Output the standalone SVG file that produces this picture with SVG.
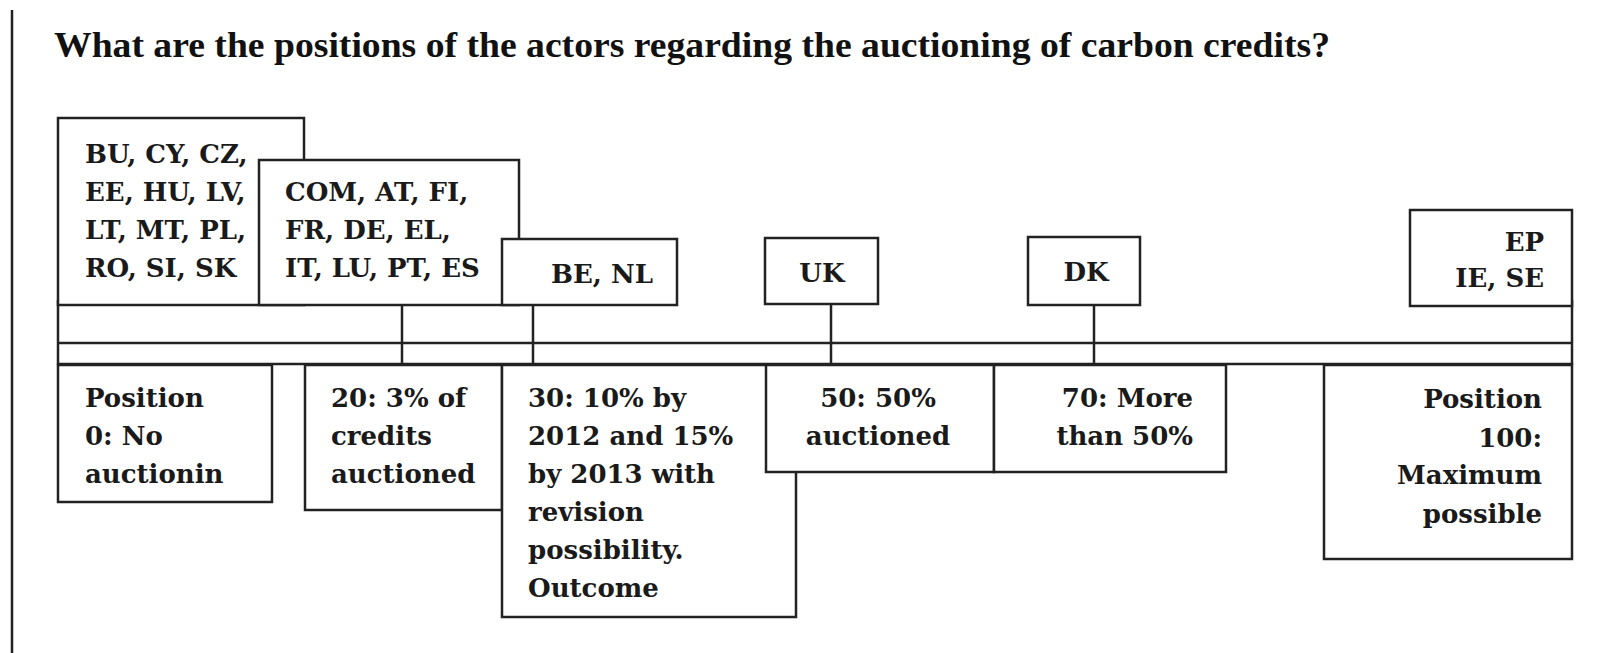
<svg xmlns="http://www.w3.org/2000/svg" width="1601" height="653" viewBox="0 0 1601 653">
<style>
.bx{fill:#fff;stroke:#222;stroke-width:2.5}
.ln{stroke:#222;stroke-width:2.5;fill:none}
.t{font-family:"DejaVu Serif","Liberation Serif",serif;font-weight:bold;font-size:26px;fill:#1a1a1a}
.title{font-family:"Liberation Serif","Times New Roman",serif;font-weight:bold;font-size:35px;fill:#111}
.r{text-anchor:end}
.m{text-anchor:middle}
</style>
<rect width="1601" height="653" fill="#fff"/>
<line x1="12" y1="10" x2="12" y2="653" class="ln"/>
<text class="title" x="54" y="57" textLength="1276" lengthAdjust="spacingAndGlyphs">What are the positions of the actors regarding the auctioning of carbon credits?</text>

<g id="connectors">
<line class="ln" x1="58" y1="343" x2="1572" y2="343"/>
<line class="ln" x1="58" y1="364" x2="1572" y2="364"/>
<line class="ln" x1="58" y1="300" x2="58" y2="365"/>
<line class="ln" x1="1572" y1="300" x2="1572" y2="365"/>
<line class="ln" x1="402" y1="305" x2="402" y2="365"/>
<line class="ln" x1="533" y1="305" x2="533" y2="365"/>
<line class="ln" x1="831" y1="304" x2="831" y2="365"/>
<line class="ln" x1="1094" y1="305" x2="1094" y2="365"/>
</g>

<g id="actors-0">
<rect class="bx" x="58" y="118" width="246" height="187"/>
<text class="t" x="85" y="163">BU, CY, CZ,</text>
<text class="t" x="85" y="201">EE, HU, LV,</text>
<text class="t" x="85" y="239">LT, MT, PL,</text>
<text class="t" x="85" y="277">RO, SI, SK</text>
</g>
<g id="actors-20">
<rect class="bx" x="259" y="160" width="260" height="145"/>
<text class="t" x="285" y="201">COM, AT, FI,</text>
<text class="t" x="285" y="239">FR, DE, EL,</text>
<text class="t" x="285" y="277">IT, LU, PT, ES</text>
</g>
<g id="actors-30">
<rect class="bx" x="502" y="239" width="175" height="66"/>
<text class="t" x="551" y="283">BE, NL</text>
</g>
<g id="actors-50">
<rect class="bx" x="765" y="238" width="113" height="66"/>
<text class="t m" x="822" y="282">UK</text>
</g>
<g id="actors-70">
<rect class="bx" x="1028" y="237" width="112" height="68"/>
<text class="t m" x="1086" y="281">DK</text>
</g>
<g id="actors-100">
<rect class="bx" x="1410" y="210" width="162" height="96"/>
<text class="t r" x="1544" y="251">EP</text>
<text class="t r" x="1544" y="287">IE, SE</text>
</g>

<g id="pos-0">
<rect class="bx" x="58" y="365" width="214" height="137"/>
<text class="t" x="85" y="407">Position</text>
<text class="t" x="85" y="445">0: No</text>
<text class="t" x="85" y="483">auctionin</text>
</g>
<g id="pos-20">
<rect class="bx" x="305" y="365" width="197" height="145"/>
<text class="t" x="331" y="407">20: 3% of</text>
<text class="t" x="331" y="445">credits</text>
<text class="t" x="331" y="483">auctioned</text>
</g>
<g id="pos-30">
<rect class="bx" x="502" y="365" width="294" height="252"/>
<text class="t" x="528" y="407">30: 10% by</text>
<text class="t" x="528" y="445">2012 and 15%</text>
<text class="t" x="528" y="483">by 2013 with</text>
<text class="t" x="528" y="521">revision</text>
<text class="t" x="528" y="559">possibility.</text>
<text class="t" x="528" y="597">Outcome</text>
</g>
<g id="pos-50">
<rect class="bx" x="766" y="365" width="228" height="107"/>
<text class="t m" x="878" y="407">50: 50%</text>
<text class="t m" x="878" y="445">auctioned</text>
</g>
<g id="pos-70">
<rect class="bx" x="994" y="365" width="232" height="107"/>
<text class="t r" x="1193" y="407">70: More</text>
<text class="t r" x="1193" y="445">than 50%</text>
</g>
<g id="pos-100">
<rect class="bx" x="1324" y="365" width="248" height="194"/>
<text class="t r" x="1542" y="408">Position</text>
<text class="t r" x="1542" y="447">100:</text>
<text class="t r" x="1542" y="484">Maximum</text>
<text class="t r" x="1542" y="523">possible</text>
</g>
</svg>
